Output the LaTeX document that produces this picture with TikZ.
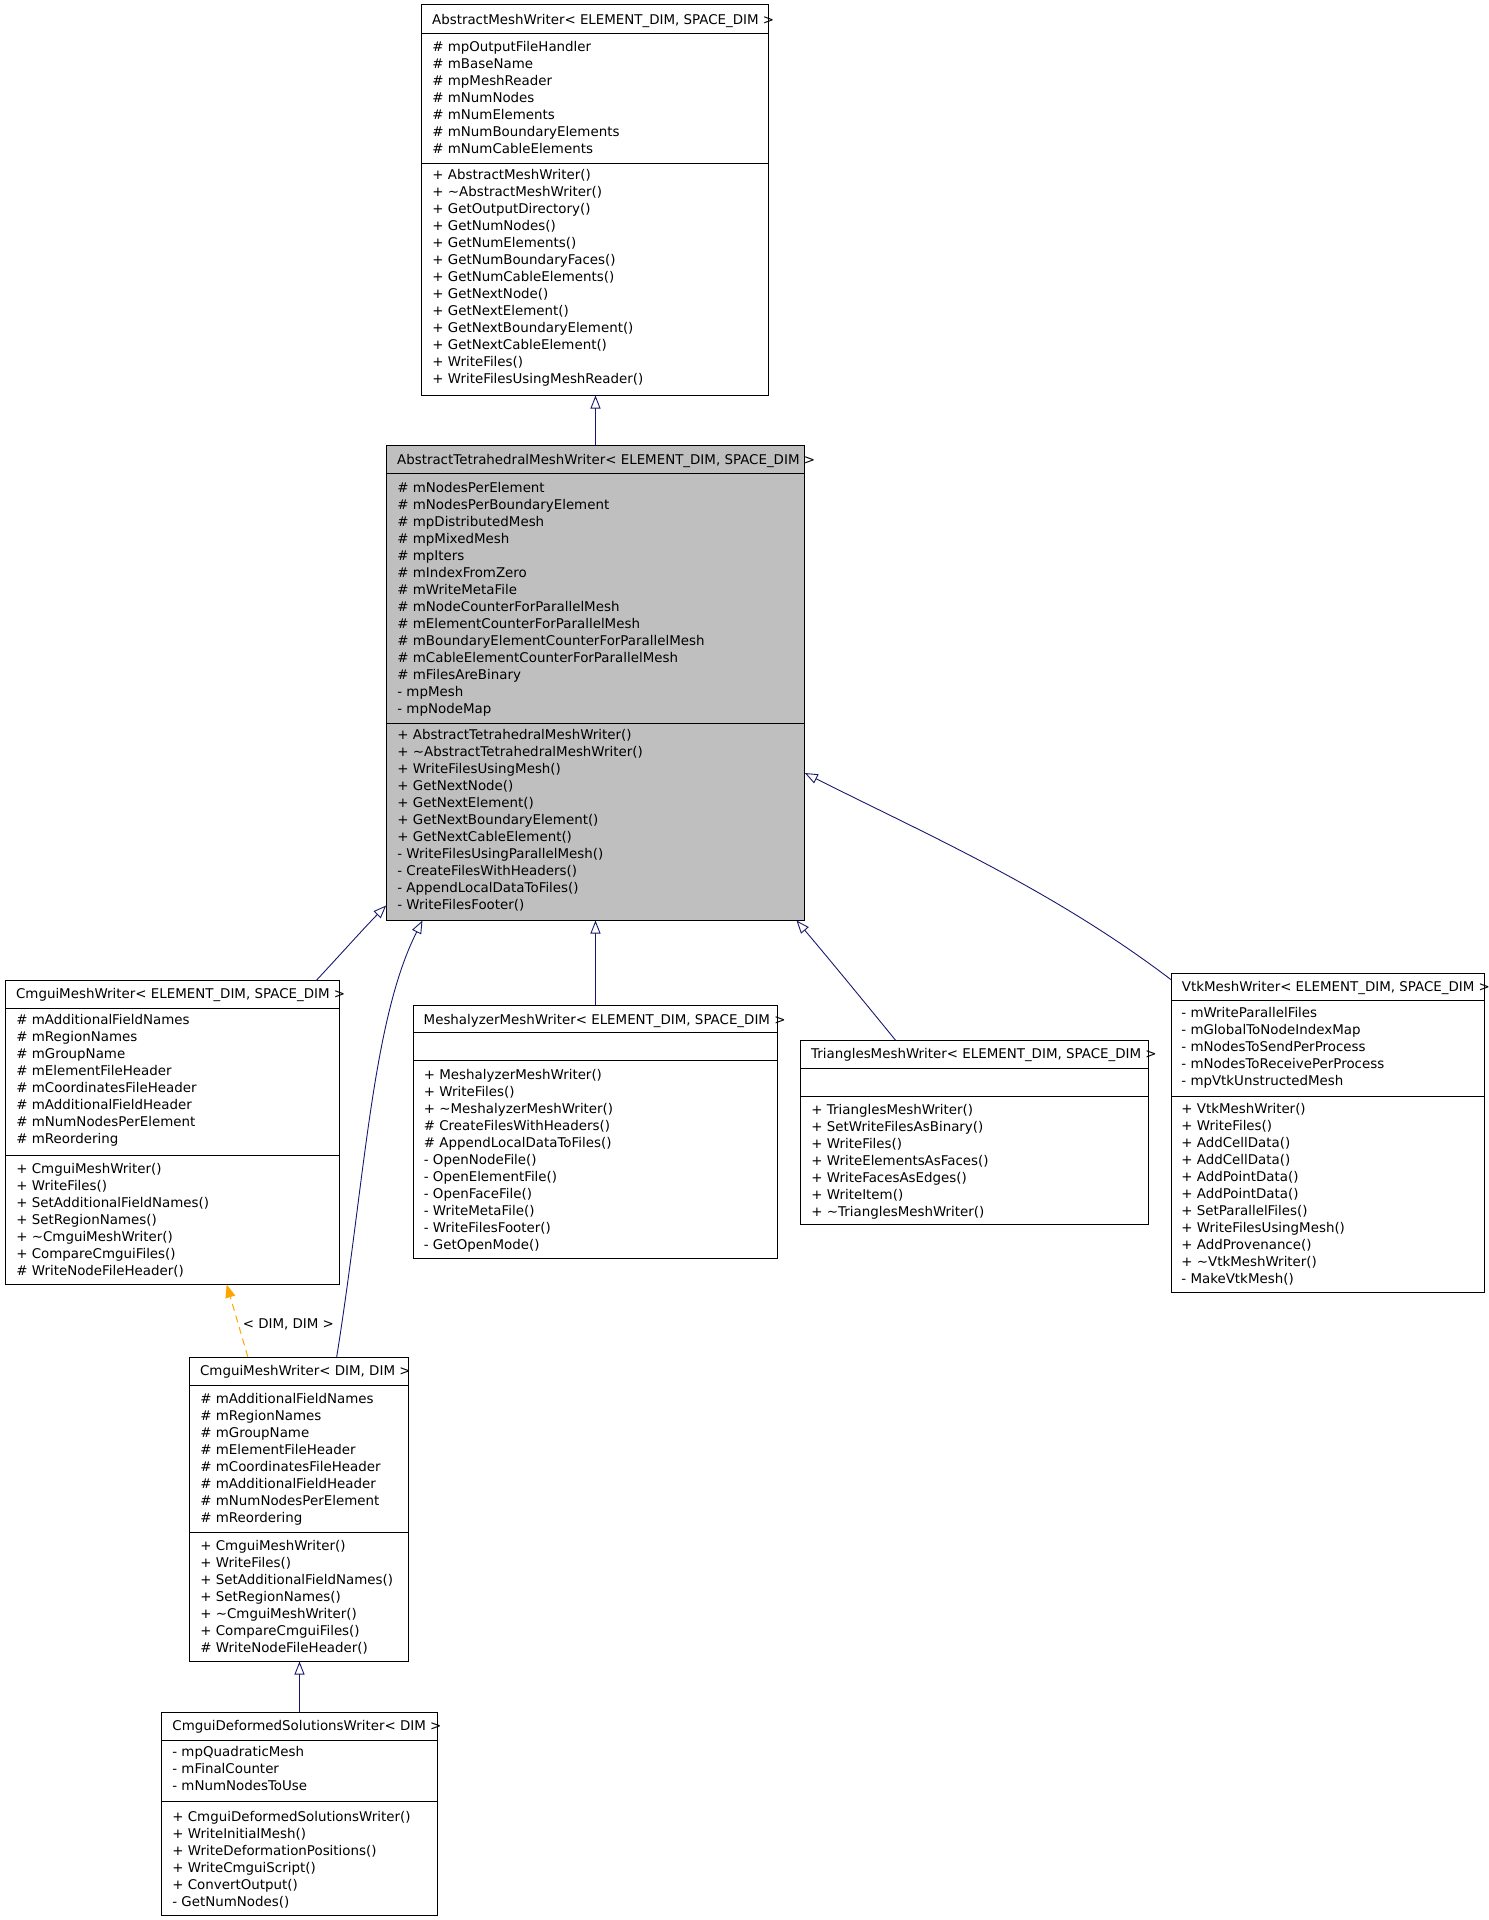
\documentclass[tikz,border=0pt]{standalone}
\usepackage{fontspec}
\setmainfont{DejaVu Sans}
\usepackage{tikz}
\usetikzlibrary{positioning,calc,fit,arrows.meta}
\definecolor{edgeblue}{RGB}{25,25,112}
\definecolor{tmplorange}{RGB}{255,165,0}
\definecolor{curgrey}{RGB}{191,191,191}
\tikzset{
  cbox/.style     = {draw=black, fill=white, inner sep=0pt, line width=0.5pt},
  cboxcur/.style  = {cbox, fill=curgrey},
  sepline/.style  = {draw=black, line width=0.5pt},
  ctitle/.style   = {font=\fontsize{6.7}{8}\selectfont, anchor=west, inner sep=0pt, text height=5.5pt, text depth=0.6pt},
  mbr/.style      = {font=\fontsize{6.7}{8}\selectfont, anchor=west, inner sep=0pt, text height=5.5pt, text depth=0.6pt},
  inherit/.style  = {-{Triangle[open, length=6.5pt, width=5pt]}, draw=edgeblue, line width=0.45pt},
  tmpl/.style     = {-{Triangle[length=6.5pt, width=5pt]}, draw=tmplorange, line width=0.5pt, dash pattern=on 3.5pt off 2.5pt},
  tmpllbl/.style  = {font=\fontsize{6.7}{8}\selectfont, inner sep=0pt, anchor=west},
}
% one member row per list entry, 17px apart
\newcommand{\mrows}[4]{%
  \foreach \t [count=\i from 0] in {#4} {
    \node[mbr] (#1\i) at (#2,{#3+17*\i}) {\t};
  }}

\begin{document}
\begin{tikzpicture}[x=0.5pt,y=-0.5pt]
  \useasboundingbox (0,0) rectangle (1488,1920);

  % AbstractMeshWriter
  \node[cbox, fit={(421.7,5) (768.3,395)}] (amw) {};
  \draw[sepline] (421.7,33.3) -- (768.3,33.3);
  \draw[sepline] (421.7,163.3) -- (768.3,163.3);
  \node[ctitle] (amwt) at (431.7,20) {AbstractMeshWriter< ELEMENT\_DIM, SPACE\_DIM >};
  \mrows{amwa}{432}{46.7}{\# mpOutputFileHandler,\# mBaseName,\# mpMeshReader,\# mNumNodes,\# mNumElements,\# mNumBoundaryElements,\# mNumCableElements}
  \mrows{amwm}{432}{175}{+ AbstractMeshWriter(),+ \textasciitilde AbstractMeshWriter(),+ GetOutputDirectory(),+ GetNumNodes(),+ GetNumElements(),+ GetNumBoundaryFaces(),+ GetNumCableElements(),+ GetNextNode(),+ GetNextElement(),+ GetNextBoundaryElement(),+ GetNextCableElement(),+ WriteFiles(),+ WriteFilesUsingMeshReader()}

  % AbstractTetrahedralMeshWriter (current class)
  \node[cboxcur, fit={(386.7,445) (804.3,920)}] (tetra) {};
  \draw[sepline] (386.7,473.3) -- (804.3,473.3);
  \draw[sepline] (386.7,723.3) -- (804.3,723.3);
  \node[ctitle] (tetrat) at (396.7,460) {AbstractTetrahedralMeshWriter< ELEMENT\_DIM, SPACE\_DIM >};
  \mrows{tetraa}{397}{487.3}{\# mNodesPerElement,\# mNodesPerBoundaryElement,\# mpDistributedMesh,\# mpMixedMesh,\# mpIters,\# mIndexFromZero,\# mWriteMetaFile,\# mNodeCounterForParallelMesh,\# mElementCounterForParallelMesh,\# mBoundaryElementCounterForParallelMesh,\# mCableElementCounterForParallelMesh,\# mFilesAreBinary,- mpMesh,- mpNodeMap}
  \mrows{tetram}{397}{735}{+ AbstractTetrahedralMeshWriter(),+ \textasciitilde AbstractTetrahedralMeshWriter(),+ WriteFilesUsingMesh(),+ GetNextNode(),+ GetNextElement(),+ GetNextBoundaryElement(),+ GetNextCableElement(),- WriteFilesUsingParallelMesh(),- CreateFilesWithHeaders(),- AppendLocalDataToFiles(),- WriteFilesFooter()}

  % CmguiMeshWriter< ELEMENT_DIM, SPACE_DIM >
  \node[cbox, fit={(5.3,980.7) (339.3,1284)}] (cmgui) {};
  \draw[sepline] (5.3,1008.3) -- (339.3,1008.3);
  \draw[sepline] (5.3,1155.7) -- (339.3,1155.7);
  \node[ctitle] (cmguit) at (15.7,993.3) {CmguiMeshWriter< ELEMENT\_DIM, SPACE\_DIM >};
  \mrows{cmguia}{16}{1020}{\# mAdditionalFieldNames,\# mRegionNames,\# mGroupName,\# mElementFileHeader,\# mCoordinatesFileHeader,\# mAdditionalFieldHeader,\# mNumNodesPerElement,\# mReordering}
  \mrows{cmguim}{16}{1168.3}{+ CmguiMeshWriter(),+ WriteFiles(),+ SetAdditionalFieldNames(),+ SetRegionNames(),+ \textasciitilde CmguiMeshWriter(),+ CompareCmguiFiles(),\# WriteNodeFileHeader()}

  % MeshalyzerMeshWriter
  \node[cbox, fit={(413.3,1005) (777.7,1258.3)}] (meshz) {};
  \draw[sepline] (413.3,1032.7) -- (777.7,1032.7);
  \draw[sepline] (413.3,1060.7) -- (777.7,1060.7);
  \node[ctitle] (meshzt) at (423.3,1020) {MeshalyzerMeshWriter< ELEMENT\_DIM, SPACE\_DIM >};
  \mrows{meshzm}{423.5}{1075}{+ MeshalyzerMeshWriter(),+ WriteFiles(),+ \textasciitilde MeshalyzerMeshWriter(),\# CreateFilesWithHeaders(),\# AppendLocalDataToFiles(),- OpenNodeFile(),- OpenElementFile(),- OpenFaceFile(),- WriteMetaFile(),- WriteFilesFooter(),- GetOpenMode()}

  % TrianglesMeshWriter
  \node[cbox, fit={(800.7,1040.7) (1148.3,1224)}] (tri) {};
  \draw[sepline] (800.7,1068.3) -- (1148.3,1068.3);
  \draw[sepline] (800.7,1096.7) -- (1148.3,1096.7);
  \node[ctitle] (trit) at (810.7,1053.3) {TrianglesMeshWriter< ELEMENT\_DIM, SPACE\_DIM >};
  \mrows{trim}{811}{1110}{+ TrianglesMeshWriter(),+ SetWriteFilesAsBinary(),+ WriteFiles(),+ WriteElementsAsFaces(),+ WriteFacesAsEdges(),+ WriteItem(),+ \textasciitilde TrianglesMeshWriter()}

  % VtkMeshWriter
  \node[cbox, fit={(1171.3,973) (1484.3,1292.7)}] (vtk) {};
  \draw[sepline] (1171.3,1000.7) -- (1484.3,1000.7);
  \draw[sepline] (1171.3,1096) -- (1484.3,1096);
  \node[ctitle] (vtkt) at (1181.5,986.5) {VtkMeshWriter< ELEMENT\_DIM, SPACE\_DIM >};
  \mrows{vtka}{1181}{1012.3}{- mWriteParallelFiles,- mGlobalToNodeIndexMap,- mNodesToSendPerProcess,- mNodesToReceivePerProcess,- mpVtkUnstructedMesh}
  \mrows{vtkm}{1181}{1109}{+ VtkMeshWriter(),+ WriteFiles(),+ AddCellData(),+ AddCellData(),+ AddPointData(),+ AddPointData(),+ SetParallelFiles(),+ WriteFilesUsingMesh(),+ AddProvenance(),+ \textasciitilde VtkMeshWriter(),- MakeVtkMesh()}

  % CmguiMeshWriter< DIM, DIM >
  \node[cbox, fit={(189.3,1357.3) (408.3,1661)}] (cmguidim) {};
  \draw[sepline] (189.3,1385) -- (408.3,1385);
  \draw[sepline] (189.3,1532.3) -- (408.3,1532.3);
  \node[ctitle] (cmguidimt) at (199.7,1371) {CmguiMeshWriter< DIM, DIM >};
  \mrows{cmguidima}{200}{1398.3}{\# mAdditionalFieldNames,\# mRegionNames,\# mGroupName,\# mElementFileHeader,\# mCoordinatesFileHeader,\# mAdditionalFieldHeader,\# mNumNodesPerElement,\# mReordering}
  \mrows{cmguidimm}{200}{1545.7}{+ CmguiMeshWriter(),+ WriteFiles(),+ SetAdditionalFieldNames(),+ SetRegionNames(),+ \textasciitilde CmguiMeshWriter(),+ CompareCmguiFiles(),\# WriteNodeFileHeader()}

  % CmguiDeformedSolutionsWriter
  \node[cbox, fit={(161.7,1712.7) (437.3,1915.7)}] (cmdef) {};
  \draw[sepline] (161.7,1740.7) -- (437.3,1740.7);
  \draw[sepline] (161.7,1801) -- (437.3,1801);
  \node[ctitle] (cmdeft) at (172,1726) {CmguiDeformedSolutionsWriter< DIM >};
  \mrows{cmdefa}{172}{1751.7}{- mpQuadraticMesh,- mFinalCounter,- mNumNodesToUse}
  \mrows{cmdefm}{172}{1816.7}{+ CmguiDeformedSolutionsWriter(),+ WriteInitialMesh(),+ WriteDeformationPositions(),+ WriteCmguiScript(),+ ConvertOutput(),- GetNumNodes()}

  % inheritance
  \draw[inherit] (tetra.north) -- (tetra.north |- amw.south);
  \draw[inherit] ($(cmgui.north east)+(-23.3,0)$) .. controls (340,955) and (365,927) .. ($(tetra.south west)+(0,-15)$);
  \draw[inherit] ($(cmguidim.north)+(37.9,0)$) .. controls (365,1180) and (372,1020) .. ($(tetra.south west)+(36.3,0)$);
  \draw[inherit] (meshz.north) -- (meshz.north |- tetra.south);
  \draw[inherit] ($(tri.north west)+(95.3,0)$) .. controls (875,1015) and (830,960) .. ($(tetra.south east)+(-8.3,0)$);
  \draw[inherit] ($(vtk.north west)+(0,7)$) .. controls (1051.7,889) and (925,833.7) .. ($(tetra.east)+(0,90.5)$);
  \draw[inherit] (cmdef.north) -- (cmdef.north |- cmguidim.south);

  % template instance
  \draw[tmpl] ($(cmguidim.north west)+(59,0)$) -- node[tmpllbl, pos=0.45, xshift=2pt] (dimdim) {< DIM, DIM >} ($(cmgui.south)+(54.4,0)$);
\end{tikzpicture}
\end{document}
